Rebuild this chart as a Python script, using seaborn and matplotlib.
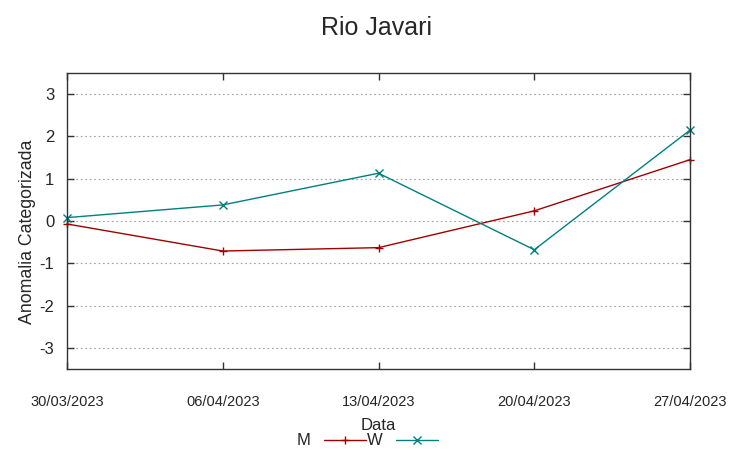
import matplotlib
matplotlib.use("Agg")
import matplotlib.pyplot as plt
import matplotlib.dates as mdates
import seaborn as sns
import pandas as pd

dates = ["2023-03-30", "2023-04-06", "2023-04-13", "2023-04-20", "2023-04-27"]
m_values = [-0.07, -0.71, -0.63, 0.24, 1.45]
w_values = [0.08, 0.38, 1.13, -0.68, 2.15]
series_names = ["M", "W"]
y_ticks = [-3, -2, -1, 0, 1, 2, 3]

df = pd.DataFrame({
    "Data": pd.to_datetime(dates * 2),
    "Anomalia": m_values + w_values,
    "Serie": [series_names[0]] * len(dates) + [series_names[1]] * len(dates),
})

sns.set_theme(style="white")
plt.rcParams["font.family"] = ["Liberation Sans", "DejaVu Sans"]
plt.rcParams["axes.unicode_minus"] = False

fig = plt.figure(figsize=(7.53, 4.58), dpi=100)
ax = fig.add_axes([67 / 753, 1 - 369 / 458, (690 - 67) / 753, (369 - 73) / 458])

palette = {"M": "#a00000", "W": "#008080"}
sns.lineplot(data=df, x="Data", y="Anomalia", hue="Serie", style="Serie",
             markers={"M": "+", "W": "x"}, dashes=False, palette=palette,
             linewidth=1.0, markersize=6, ax=ax, legend=True)

for ln in ax.lines:
    ln.set_markeredgecolor(ln.get_color())
    ln.set_markerfacecolor(ln.get_color())
    ln.set_markeredgewidth(1.0)
    ln.set_clip_on(False)

ax.set_xlim(pd.Timestamp(dates[0]), pd.Timestamp(dates[-1]))
ax.set_ylim(-3.5, 3.5)
ax.set_yticks(y_ticks)
ax.set_xticks(pd.to_datetime(dates))
ax.xaxis.set_major_formatter(mdates.DateFormatter("%d/%m/%Y"))
ax.grid(axis="y", color="#a0a0a0", linestyle=(0, (1.5, 2.5)), linewidth=0.8)
ax.grid(axis="x", visible=False)

for s in ax.spines.values():
    s.set_color("#333333")
    s.set_linewidth(1.0)

ax.tick_params(axis="both", direction="in", length=5, width=1, color="#333333",
               top=True, right=True, left=True, bottom=True)
ax.tick_params(axis="x", pad=19, labelsize=10.5)
ax.tick_params(axis="y", pad=9, labelsize=12)

ax.set_xlabel("Data", fontsize=12, labelpad=6)
ax.set_ylabel("Anomalia Categorizada", fontsize=12.8)
ax.yaxis.set_label_coords((36 - 67) / 623, (369 - 232) / 296)
fig.suptitle("Rio Javari", fontsize=18, y=0.965)

handles, labels = ax.get_legend_handles_labels()
for h in handles:
    h.set_markeredgecolor(h.get_color())
    h.set_markeredgewidth(1.0)
leg = ax.legend(handles, labels, loc="center", bbox_to_anchor=(0.482, -0.243),
                ncol=2, frameon=False, markerfirst=False, handlelength=2.5,
                handletextpad=0.8, columnspacing=0.1, borderpad=0,
                prop={"size": 12})

fig.savefig("out.png", dpi=100)
